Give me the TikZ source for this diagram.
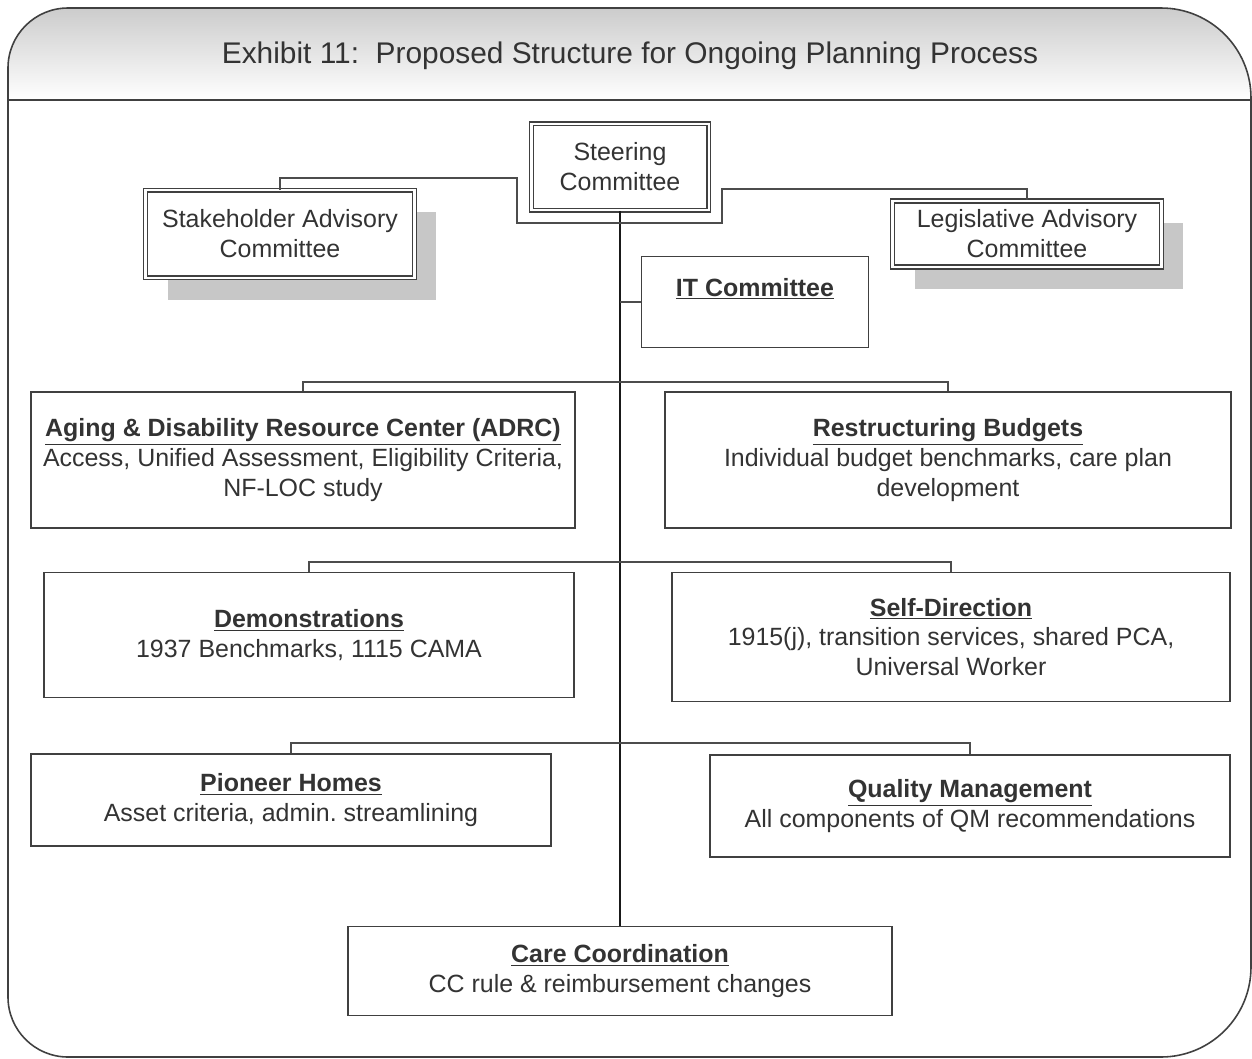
\documentclass[tikz,border=0pt]{standalone}
\usepackage{fontspec}
\setmainfont{Liberation Sans}
\usetikzlibrary{shadows}

\begin{document}
\begin{tikzpicture}[
  x=0.02cm, y=-0.02cm,
  txt/.style={font=\fontsize{14.2}{17}\selectfont, text=black!80, align=center},
  unit/.style={txt, draw=black!75, line width=1.1pt, fill=white, inner sep=0pt},
  board/.style={txt, draw=black!75, line width=0.75pt, double=white, double distance=1.4pt, fill=white, inner sep=0pt},
  shadowed/.style={drop shadow={shadow xshift=0.44cm, shadow yshift=-0.44cm, fill=black!22, opacity=1}},
  link/.style={draw=black!70, line width=1pt},
  trunk/.style={draw=black!90, line width=1pt},
  frame/.style={draw=black!75, line width=0.9pt}
]
\useasboundingbox (0,0) rectangle (1252,1059);
\begin{scope}
  \clip (620,1057) [rounded corners=1.2cm] -- (8,1057) -- (8,8) [rounded corners=1.8cm] -- (1251,8) -- (1251,1057) [rounded corners=1.2cm] -- cycle;
  \shade[top color=black!20, bottom color=white] (8,8) rectangle (1251,100);
\end{scope}
\draw[frame] (620,1057) [rounded corners=1.2cm] -- (8,1057) -- (8,8) [rounded corners=1.8cm] -- (1251,8) -- (1251,1057) [rounded corners=1.2cm] -- cycle;
\draw[frame] (8,100) -- (1251,100);
\node[txt, font=\fontsize{17}{20}\selectfont, anchor=base] (title) at (630,63) {Exhibit 11:\ \ Proposed Structure for Ongoing Planning Process};

\node[board, minimum width=3.55cm, minimum height=1.73cm] (steer) at (620,167) {Steering\\Committee};
\node[board, shadowed, minimum width=5.38cm, minimum height=1.75cm] (stake) at (280,234) {Stakeholder Advisory\\Committee};
\node[board, shadowed, minimum width=5.38cm, minimum height=1.32cm] (legis) at (1027,234) {Legislative Advisory\\Committee};
\node[unit, minimum width=4.54cm, minimum height=1.82cm] (itc) at (755,302) {\textbf{\underline{IT Committee}}\\\mbox{}};

\node[unit, minimum width=10.88cm, minimum height=2.72cm] (adrc) at (303,460) {\textbf{\underline{Aging \& Disability Resource Center (ADRC)}}\\Access, Unified Assessment, Eligibility Criteria,\\NF-LOC study};
\node[unit, minimum width=11.32cm, minimum height=2.72cm] (budg) at (948,460) {\textbf{\underline{Restructuring Budgets}}\\Individual budget benchmarks, care plan\\development};
\node[unit, minimum width=10.62cm, minimum height=2.5cm] (demo) at (309,635) {\textbf{\underline{Demonstrations}}\\1937 Benchmarks, 1115 CAMA};
\node[unit, minimum width=11.18cm, minimum height=2.58cm] (selfd) at (951,637) {\textbf{\underline{Self-Direction}}\\1915(j), transition services, shared PCA,\\Universal Worker};
\node[unit, minimum width=10.42cm, minimum height=1.84cm] (pion) at (291,800) {\textbf{\underline{Pioneer Homes}}\\Asset criteria, admin.\ streamlining};
\node[unit, minimum width=10.42cm, minimum height=2.04cm] (qual) at (970,806) {\textbf{\underline{Quality Management}}\\All components of QM recommendations};
\node[unit, minimum width=10.9cm, minimum height=1.78cm] (care) at (620,971) {\textbf{\underline{Care Coordination}}\\CC rule \& reimbursement changes};

\coordinate (j1) at (620,382);
\coordinate (j2) at (620,562);
\coordinate (j3) at (620,743);
\draw[trunk] (steer.south) -- (care.north);
\draw[link] (itc.west) -- (itc.west -| steer.south);
\draw[link] (adrc.north) |- (j1) -| (budg.north);
\draw[link] (demo.north) |- (j2) -| (selfd.north);
\draw[link] (pion.north) |- (j3) -| (qual.north);
\draw[link, line width=0.8pt] (stake.north) |- (517,178) |- (722,223) |- (1027,189) -- (legis.north);
\end{tikzpicture}
\end{document}
